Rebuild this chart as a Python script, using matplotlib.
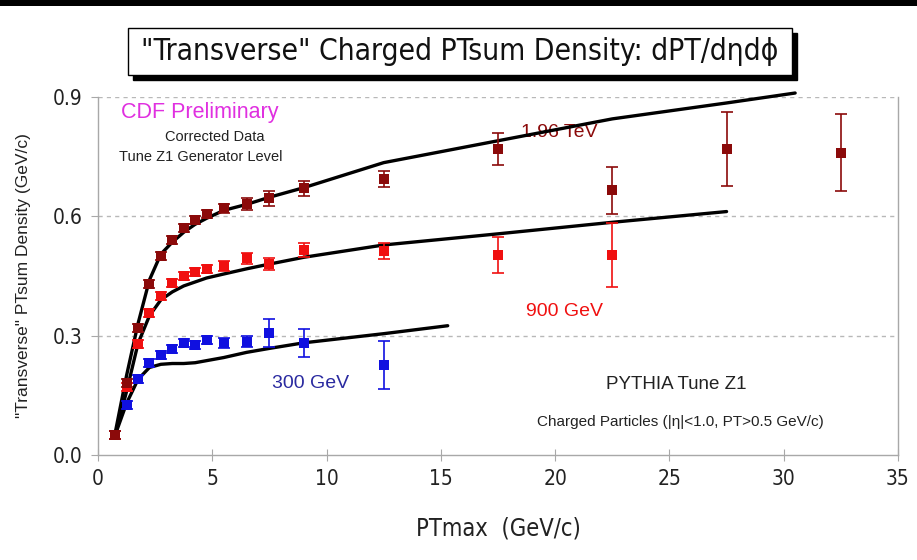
import matplotlib
matplotlib.use("Agg")
import matplotlib.pyplot as plt
from matplotlib.patches import Rectangle

# ---------------- data ----------------
pt_bins = [0.75, 1.25, 1.75, 2.25, 2.75, 3.25, 3.75, 4.25, 4.75, 5.5, 6.5, 7.5, 9.0,
           12.5, 17.5, 22.5, 27.5, 32.5]

# CDF data 1.96 TeV
tev196_y = [0.05, 0.18, 0.32, 0.43, 0.50, 0.54, 0.57, 0.59, 0.605, 0.62, 0.63, 0.645,
            0.67, 0.695, 0.77, 0.665, 0.77, 0.76]
tev196_err = [0.01, 0.01, 0.01, 0.01, 0.01, 0.01, 0.01, 0.01, 0.01, 0.012, 0.015, 0.018,
              0.02, 0.02, 0.04, 0.058, 0.093, 0.097]

# CDF data 900 GeV
gev900_x = [0.75, 1.25, 1.75, 2.25, 2.75, 3.25, 3.75, 4.25, 4.75, 5.5, 6.5, 7.5, 9.0,
            12.5, 17.5, 22.5]
gev900_y = [0.05, 0.17, 0.28, 0.356, 0.40, 0.433, 0.45, 0.461, 0.467, 0.475, 0.494,
            0.48, 0.515, 0.512, 0.503, 0.503]
gev900_err = [0.01, 0.01, 0.01, 0.01, 0.01, 0.01, 0.01, 0.01, 0.01, 0.012, 0.014, 0.015,
              0.018, 0.02, 0.045, 0.08]

# CDF data 300 GeV
gev300_x = [0.75, 1.25, 1.75, 2.25, 2.75, 3.25, 3.75, 4.25, 4.75, 5.5, 6.5, 7.5, 9.0, 12.5]
gev300_y = [0.05, 0.126, 0.19, 0.231, 0.251, 0.266, 0.281, 0.277, 0.289, 0.281, 0.285,
            0.306, 0.281, 0.226]
gev300_err = [0.01, 0.01, 0.01, 0.01, 0.01, 0.01, 0.01, 0.01, 0.01, 0.012, 0.014, 0.035,
              0.035, 0.06]

# PYTHIA Tune Z1 curves
z1_196_x = [0.75, 1.25, 1.75, 2.25, 2.75, 3.25, 3.75, 4.25, 4.75, 5.5, 6.5, 7.5, 9.0,
            12.5, 17.5, 22.5, 27.5, 30.5]
z1_196_y = [0.055, 0.20, 0.33, 0.44, 0.505, 0.535, 0.56, 0.58, 0.595, 0.615, 0.63, 0.648,
            0.672, 0.735, 0.79, 0.845, 0.885, 0.91]
z1_900_x = [0.75, 1.25, 1.75, 2.25, 2.75, 3.25, 3.75, 4.25, 4.75, 5.5, 6.5, 7.5, 9.0,
            12.5, 17.5, 22.5, 27.5]
z1_900_y = [0.05, 0.16, 0.28, 0.35, 0.39, 0.41, 0.425, 0.435, 0.445, 0.455, 0.468, 0.48,
            0.497, 0.528, 0.556, 0.585, 0.612]
z1_300_x = [0.75, 1.25, 1.75, 2.25, 2.75, 3.25, 3.75, 4.25, 5.5, 6.5, 7.5, 9.0, 12.5, 15.3]
z1_300_y = [0.05, 0.13, 0.19, 0.22, 0.228, 0.23, 0.23, 0.232, 0.245, 0.258, 0.268, 0.282,
            0.305, 0.325]

x_ticks = [0, 5, 10, 15, 20, 25, 30, 35]
y_ticks = [0.0, 0.3, 0.6, 0.9]
y_tick_labels = ["0.0", "0.3", "0.6", "0.9"]

# ---------------- style ----------------
NARROW = ["DejaVu Sans"]
SANS = ["Liberation Sans", "DejaVu Sans"]
C196 = "#8b0a0a"
C900 = "#f01010"
C300 = "#1010e0"

fig = plt.figure(figsize=(9.17, 5.60), dpi=100)
fig.patch.set_facecolor("white")
ax = fig.add_axes([98 / 917, 1 - 455 / 560, 800 / 917, 358 / 560])

ax.set_xlim(0, 35)
ax.set_ylim(0, 0.9)

# grid
for yv in y_ticks[1:]:
    ax.axhline(yv, color="#b8b8b8", lw=1.0, ls=(0, (3, 3)), zorder=0)

ax.spines["top"].set_visible(False)
for s in ["left", "bottom", "right"]:
    ax.spines[s].set_color("#a8a8a8")
    ax.spines[s].set_linewidth(1.0)

ax.set_xticks(x_ticks)
ax.set_xticklabels([str(t) for t in x_ticks], family=NARROW, stretch="condensed",
                   fontsize=15, color="#222222")
ax.set_yticks(y_ticks)
ax.set_yticklabels(y_tick_labels, family=NARROW, stretch="condensed", fontsize=15,
                   color="#222222")
ax.tick_params(axis="x", direction="inout", length=8, color="#a8a8a8", pad=6)
ax.tick_params(axis="y", direction="out", length=5, color="#a8a8a8", pad=6)

# model curves
for xs, ys in [(z1_196_x, z1_196_y), (z1_900_x, z1_900_y), (z1_300_x, z1_300_y)]:
    ax.plot(xs, ys, color="black", lw=2.4, zorder=3, clip_on=False,
            solid_capstyle="round")

# data
def draw(xs, ys, es, col):
    ax.errorbar(xs, ys, yerr=es, fmt="none", ecolor=col, elinewidth=1.2,
                capsize=4.5, capthick=1.2, zorder=4)
    ax.plot(xs, ys, "s", color=col, markersize=6.5, markeredgewidth=0, zorder=5)

draw(gev300_x, gev300_y, gev300_err, C300)
draw(gev900_x, gev900_y, gev900_err, C900)
draw(pt_bins, tev196_y, tev196_err, C196)

# axis labels
ax.set_xlabel("PTmax  (GeV/c)", family=NARROW, stretch="condensed", fontsize=17,
              labelpad=20, color="#222222")
ax.set_ylabel('"Transverse" PTsum Density (GeV/c)', family=SANS, fontsize=12.5,
              labelpad=16, color="#222222")

# annotations
ax.text(1.0, 0.862, "CDF Preliminary", color="#e030e0", family=SANS, fontsize=15.5,
        ha="left", va="center")
ax.text(5.1, 0.80, "Corrected Data", color="#222222", family=SANS, fontsize=10.5,
        ha="center", va="center")
ax.text(4.5, 0.75, "Tune Z1 Generator Level", color="#222222", family=SANS,
        fontsize=10.5, ha="center", va="center")
ax.text(20.2, 0.812, "1.96 TeV", color=C196, family=SANS, fontsize=14, ha="center",
        va="center", zorder=2)
ax.text(20.4, 0.36, "900 GeV", color=C900, family=SANS, fontsize=14, ha="center",
        va="center")
ax.text(9.3, 0.18, "300 GeV", color="#2a2aa0", family=SANS, fontsize=14, ha="center",
        va="center")
ax.text(25.3, 0.177, "PYTHIA Tune Z1", color="#222222", family=SANS, fontsize=13.5,
        ha="center", va="center")
ax.text(25.5, 0.083, "Charged Particles (|\u03b7|<1.0, PT>0.5 GeV/c)", color="#222222",
        family=SANS, fontsize=11, ha="center", va="center")

# title with shadowed box
shadow = Rectangle((133 / 917, 1 - 80 / 560), 664 / 917, 47 / 560,
                   transform=fig.transFigure, facecolor="black", edgecolor="black",
                   zorder=1)
box = Rectangle((128 / 917, 1 - 75 / 560), 664 / 917, 47 / 560,
                transform=fig.transFigure, facecolor="white", edgecolor="black",
                lw=1.0, zorder=2)
fig.patches.extend([shadow, box])
fig.text(460 / 917, 1 - 51 / 560, '"Transverse" Charged PTsum Density: dPT/d\u03b7d\u03d5',
         family=NARROW, stretch="condensed", fontsize=21.5, ha="center", va="center",
         color="#111111", zorder=3)

# top black bar
bar = Rectangle((0, 1 - 6 / 560), 1, 6 / 560, transform=fig.transFigure,
                facecolor="black", edgecolor="none", zorder=5)
fig.patches.append(bar)

fig.savefig("out.png", dpi=100)
